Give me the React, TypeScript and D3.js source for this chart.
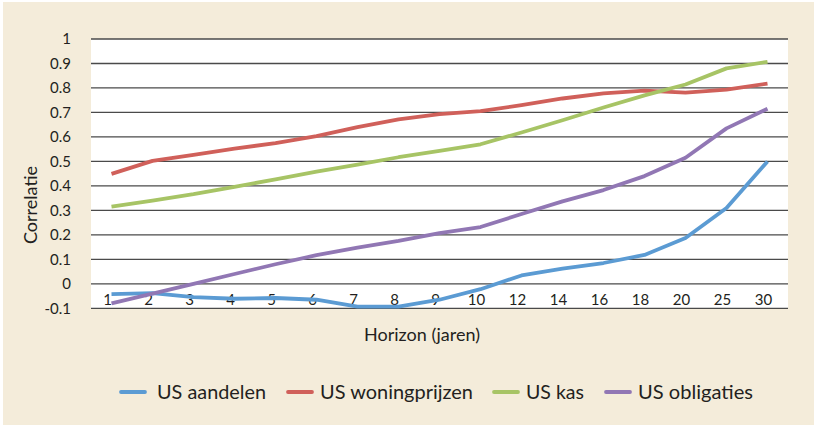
import React, { useEffect, useRef } from "react";
import { select, scaleBand, scaleLinear, line } from "d3";

const categories = ["1", "2", "3", "4", "5", "6", "7", "8", "9", "10", "12", "14", "16", "18", "20", "25", "30"];
const usAandelen = [-0.042, -0.038, -0.054, -0.061, -0.058, -0.065, -0.093, -0.093, -0.065, -0.022, 0.034, 0.062, 0.085, 0.118, 0.187, 0.31, 0.5];
const usWoningprijzen = [0.449, 0.502, 0.527, 0.552, 0.575, 0.603, 0.64, 0.672, 0.693, 0.705, 0.73, 0.757, 0.778, 0.789, 0.781, 0.793, 0.818];
const usKas = [0.315, 0.34, 0.366, 0.396, 0.427, 0.458, 0.487, 0.517, 0.543, 0.57, 0.618, 0.668, 0.72, 0.77, 0.814, 0.88, 0.907];
const usObligaties = [-0.08, -0.04, 0.0, 0.04, 0.08, 0.117, 0.148, 0.175, 0.207, 0.232, 0.285, 0.337, 0.383, 0.44, 0.515, 0.635, 0.715];
const yTicks = [-0.1, 0, 0.1, 0.2, 0.3, 0.4, 0.5, 0.6, 0.7, 0.8, 0.9, 1];

const series = [
  { name: "US aandelen", values: usAandelen, color: "#5B9BD3" },
  { name: "US woningprijzen", values: usWoningprijzen, color: "#D0605A" },
  { name: "US kas", values: usKas, color: "#A7C465" },
  { name: "US obligaties", values: usObligaties, color: "#9177B4" },
];
// legend layout (swatch start, text width)
const legendX = [121, 288, 494, 606];
const legendW = [109, 153, 58, 115];

const FONT = "Lato, 'Open Sans', sans-serif";

export default function App() {
  const ref = useRef<SVGSVGElement>(null);

  useEffect(() => {
    const width = 814;
    const height = 427;
    const left = 91;
    const right = 788;
    const top = 39;
    const bottom = 308.3;

    const svg = select(ref.current).attr("width", width).attr("height", height);
    svg.selectAll("*").remove();

    svg.append("rect").attr("x", 3).attr("y", 2).attr("width", 811).attr("height", 423).attr("fill", "#F4ECDA");

    const x = scaleBand().domain(categories).range([left, right]);
    const y = scaleLinear().domain([-0.1, 1]).range([bottom, top]);

    svg.append("rect")
      .attr("x", left).attr("y", top)
      .attr("width", right - left).attr("height", bottom - top)
      .attr("fill", "#fff");

    svg.append("g")
      .selectAll("line")
      .data(yTicks)
      .join("line")
      .attr("x1", left).attr("x2", right)
      .attr("y1", (d) => y(d)).attr("y2", (d) => y(d))
      .attr("stroke", "#4a4a4a")
      .attr("stroke-width", 1.3);

    svg.append("g")
      .selectAll("text")
      .data(yTicks)
      .join("text")
      .attr("x", 71)
      .attr("y", (d) => y(d))
      .attr("dy", "0.35em")
      .attr("text-anchor", "end")
      .attr("font-family", FONT)
      .attr("font-size", 15)
      .attr("fill", "#231f20")
      .text((d) => (d === 0 ? "0" : String(Math.round(d * 10) / 10)));

    svg.append("g")
      .selectAll("text")
      .data(categories)
      .join("text")
      .attr("x", (d) => (x(d) ?? 0) + x.bandwidth() / 2 - 4)
      .attr("y", 300)
      .attr("dy", "0.35em")
      .attr("text-anchor", "middle")
      .attr("font-family", FONT)
      .attr("font-size", 15)
      .attr("fill", "#231f20")
      .text((d) => d);

    const path = line<number>()
      .x((_, i) => (x(categories[i]) ?? 0) + x.bandwidth() / 2)
      .y((d) => y(d));

    svg.append("g")
      .selectAll("path")
      .data(series)
      .join("path")
      .attr("d", (s) => path(s.values))
      .attr("fill", "none")
      .attr("stroke", (s) => s.color)
      .attr("stroke-width", 3.8)
      .attr("stroke-linejoin", "round");

    svg.append("text")
      .attr("transform", "translate(37,205) rotate(-90)")
      .attr("text-anchor", "middle")
      .attr("font-family", FONT)
      .attr("font-size", 18)
      .attr("fill", "#231f20")
      .text("Correlatie");

    svg.append("text")
      .attr("x", 422)
      .attr("y", 341)
      .attr("text-anchor", "middle")
      .attr("font-family", FONT)
      .attr("font-size", 18)
      .attr("fill", "#231f20")
      .text("Horizon (jaren)");

    const legend = svg.append("g")
      .selectAll("g")
      .data(series)
      .join("g")
      .attr("transform", (_, i) => `translate(${legendX[i]},392)`);
    legend.append("line")
      .attr("x1", 0).attr("x2", 24)
      .attr("stroke", (s) => s.color)
      .attr("stroke-width", 3.8)
      .attr("stroke-linecap", "round");
    legend.append("text")
      .attr("x", (_, i) => (i === 0 ? 36 : 32))
      .attr("dy", "0.35em")
      .attr("font-family", FONT)
      .attr("font-size", 20)
      .attr("textLength", (_, i) => legendW[i])
      .attr("lengthAdjust", "spacingAndGlyphs")
      .attr("fill", "#231f20")
      .text((s) => s.name);
  }, []);

  return (
    <div style={{ position: "absolute", left: 0, top: 0 }}>
      <svg ref={ref} style={{ display: "block" }} />
    </div>
  );
}
